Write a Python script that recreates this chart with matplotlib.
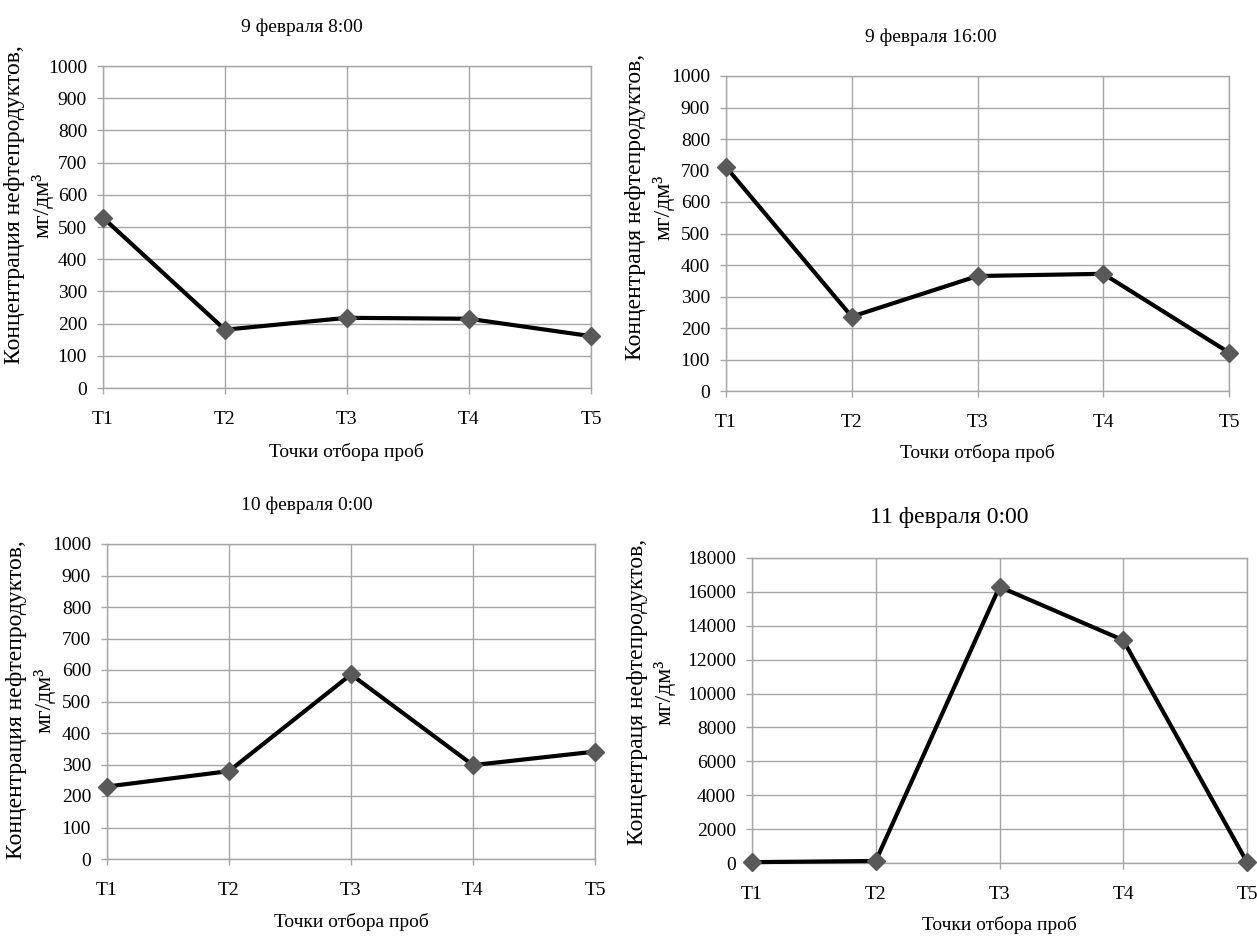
import matplotlib
matplotlib.use('Agg')
import matplotlib.pyplot as plt

plt.rcParams['font.family'] = ['Liberation Serif', 'DejaVu Serif']

# точки отбора проб
points = ['Т1', 'Т2', 'Т3', 'Т4', 'Т5']

# концентрация нефтепродуктов, мг/дм3
feb9_08 = [529, 181, 218, 215, 161]
feb9_16 = [711, 236, 365, 372, 122]
feb10_00 = [230, 279, 586, 298, 341]
feb11_00 = [50, 120, 16300, 13150, 50]

titles = ['9 февраля 8:00', '9 февраля 16:00', '10 февраля 0:00', '11 февраля 0:00']
ylabels = ['Концентрация нефтепродуктов,',
           'Концентраця нефтепродуктов,',
           'Концентрация нефтепродуктов,',
           'Концентраця нефтепродуктов,']
yunit = 'мг/дм³'
xlabel = 'Точки отбора проб'
series = [feb9_08, feb9_16, feb10_00, feb11_00]
ymax = [1000, 1000, 1000, 18000]
ystep = [100, 100, 100, 2000]

W, H = 1257, 936
fig = plt.figure(figsize=(W / 100, H / 100), dpi=100)

# пиксельная разметка: (left, right, top, bottom), заголовок, подпись оси x, подпись оси y
boxes = [(103, 591, 66, 388), (726, 1229, 76, 391), (107, 595, 544, 859), (752, 1247, 558, 863)]
title_xy = [(302, 27), (931, 37), (307, 505), (949, 517)]
title_fs = [14, 14, 14, 17]
xlab_xy = [(346, 452), (977, 453), (351, 922), (999, 925)]
ylab_x = [(15, 42), (636, 663), (17, 44), (637, 664)]
ylab_y = [205, 207, 700, 692]

grid_c = '#a6a6a6'

for i in range(4):
    l, r, t, b = boxes[i]
    ax = fig.add_axes([l / W, 1 - b / H, (r - l) / W, (b - t) / H])
    ax.plot(range(len(points)), series[i], color='black', lw=3,
            marker='D', markersize=9, markerfacecolor='#595959',
            markeredgecolor='#595959', zorder=3, clip_on=False)
    ax.set_xlim(0, len(points) - 1)
    ax.set_ylim(0, ymax[i])
    ax.set_xticks(range(len(points)))
    ax.set_xticklabels(points)
    ax.set_yticks(range(0, ymax[i] + 1, ystep[i]))
    ax.grid(True, color=grid_c, lw=1)
    ax.set_axisbelow(True)
    for s in ax.spines.values():
        s.set_color(grid_c)
        s.set_linewidth(1)
    ax.tick_params(direction='out', length=4.5, width=1, color=grid_c,
                   labelsize=14, pad=7)
    ax.tick_params(axis='x', pad=12)

    fig.text(title_xy[i][0] / W, 1 - title_xy[i][1] / H, titles[i],
             ha='center', va='center', fontsize=title_fs[i])
    fig.text(xlab_xy[i][0] / W, 1 - xlab_xy[i][1] / H, xlabel,
             ha='center', va='center', fontsize=14)
    fig.text(ylab_x[i][0] / W, 1 - ylab_y[i] / H, ylabels[i],
             ha='center', va='center', rotation=90, fontsize=17)
    fig.text(ylab_x[i][1] / W, 1 - ylab_y[i] / H, yunit,
             ha='center', va='center', rotation=90, fontsize=17)

fig.savefig('out.png', dpi=100)
